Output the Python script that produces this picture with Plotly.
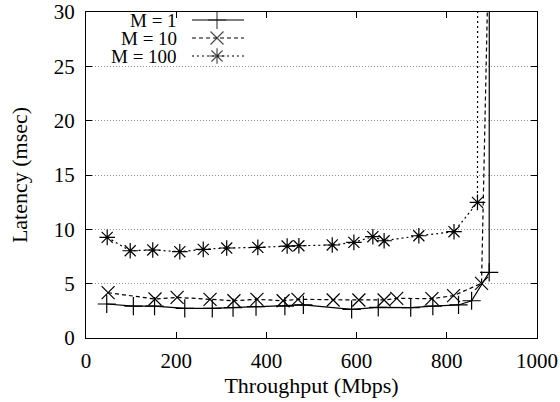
import plotly.graph_objects as go

# ---- data ----
thr_m1 = [46, 105, 152, 219, 280, 326, 377, 441, 482, 589, 648, 720, 769, 826, 855, 894, 894.5]
lat_m1 = [3.13, 2.94, 2.94, 2.73, 2.73, 2.79, 2.88, 2.94, 3.04, 2.64, 2.82, 2.79, 2.94, 3.04, 3.43, 6.04, 60]

thr_m10 = [49, 153, 202, 275, 328, 379, 437, 470, 548, 605, 661, 689, 767, 815, 877, 900]
lat_m10 = [4.17, 3.59, 3.74, 3.56, 3.43, 3.56, 3.43, 3.56, 3.50, 3.50, 3.50, 3.65, 3.62, 3.90, 5.03, 50]

thr_m100 = [47, 98, 148, 208, 260, 312, 381, 446, 472, 546, 594, 636, 661, 738, 816, 868, 869]
lat_m100 = [9.26, 8.03, 8.10, 7.94, 8.16, 8.28, 8.34, 8.46, 8.49, 8.56, 8.80, 9.32, 8.95, 9.41, 9.78, 12.48, 60]

series_names = ["M = 1", "M = 10", "M = 100"]
x_ticks = [0, 200, 400, 600, 800, 1000]
y_ticks = [0, 5, 10, 15, 20, 25, 30]

FONT = "Liberation Serif"
styles = [
    dict(dash="solid", symbol="cross-thin", color="black"),
    dict(dash="4px,3px", symbol="x-thin", color="black"),
    dict(dash="2px,3px", symbol="asterisk-open", color="black"),
]

fig = go.Figure()
data = [(thr_m1, lat_m1), (thr_m10, lat_m10), (thr_m100, lat_m100)]
for (xs, ys), name, st in zip(data, series_names, styles):
    fig.add_trace(go.Scatter(
        x=xs, y=ys, mode="lines+markers", name=name, showlegend=False,
        line=dict(color=st["color"], width=1.2, dash=st["dash"]),
        marker=dict(symbol=st["symbol"], size=13, color=st["color"],
                    line=dict(color=st["color"], width=1.2)),
    ))

# ---- manual legend (text on the left, sample on the right, gnuplot-style) ----
PW, PH = 451.0, 326.0  # plot area size in px
row_y = [8, 26, 44]    # px from plot top
text_right = 92        # px from plot left
samp_x0, samp_x1, samp_mid = 106, 158, 131

fig.add_shape(type="rect", xref="paper", yref="paper",
              x0=0, x1=164 / PW, y0=1 - 58 / PH, y1=1,
              fillcolor="white", line=dict(width=0), layer="between")

for i, (name, st) in enumerate(zip(series_names, styles)):
    yp = 1 - row_y[i] / PH
    fig.add_annotation(text=name, xref="paper", yref="paper",
                       x=text_right / PW, y=yp, xanchor="right", yanchor="middle",
                       height=16, valign="middle", borderpad=0,
                       showarrow=False, font=dict(family=FONT, size=19, color="black"))
    fig.add_trace(go.Scatter(
        x=[samp_x0, samp_mid, samp_x1], y=[row_y[i]] * 3, xaxis="x2", yaxis="y2",
        mode="lines+markers", showlegend=False, hoverinfo="skip", cliponaxis=False,
        line=dict(color="black", width=1.2, dash=st["dash"]),
        marker=dict(symbol=st["symbol"], size=[0, 13, 0], color="black",
                    line=dict(color="black", width=1.2)),
    ))

axis_common = dict(
    showline=True, linecolor="black", linewidth=1, mirror="ticks",
    ticks="inside", ticklen=6, tickcolor="black", tickwidth=1,
    tickfont=dict(family=FONT, size=21, color="black"),
    zeroline=False, automargin=False, ticklabeloverflow="allow",
)

fig.update_layout(
    width=560, height=402,
    margin=dict(l=86, r=23, t=12, b=64),
    paper_bgcolor="white", plot_bgcolor="white",
    font=dict(family=FONT, color="black"),
    showlegend=False,
    xaxis=dict(range=[0, 1000], tickvals=x_ticks, showgrid=False,
               title=dict(text="Throughput (Mbps)", font=dict(family=FONT, size=22), standoff=4),
               ticklabelstandoff=4, **axis_common),
    yaxis=dict(range=[0, 30], tickvals=y_ticks, showgrid=True,
               gridcolor="#909090", griddash="1px,2px", gridwidth=1,
               title=dict(text="Latency (msec)", font=dict(family=FONT, size=22), standoff=20),
               ticklabelstandoff=6, **axis_common),
    xaxis2=dict(overlaying="x", range=[0, PW], visible=False),
    yaxis2=dict(overlaying="y", range=[PH, 0], visible=False),
)

# remove the page's default body margin so the 560x402 figure fills the window
fig.write_html("out.html", config={"displayModeBar": False},
               post_script="document.body.style.margin='0';")
